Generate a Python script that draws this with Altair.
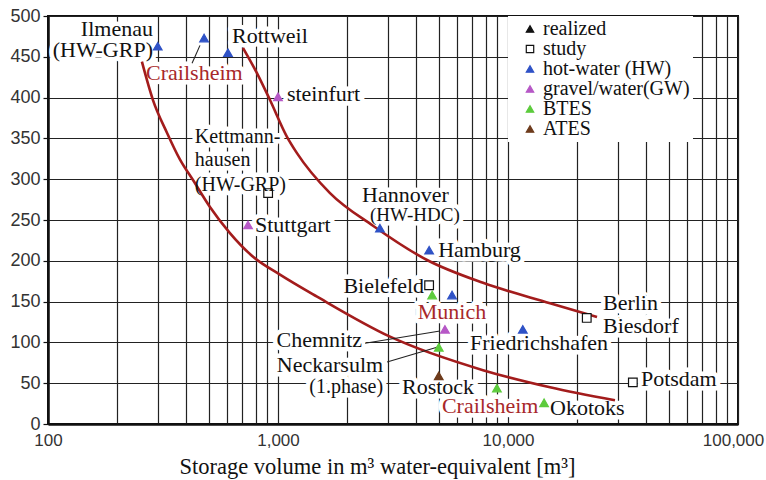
import altair as alt
import pandas as pd

# ---- storage sites -------------------------------------------------------
site_names = ["Ilmenau", "Crailsheim HW", "Rottweil", "Steinfurt", "Kettmannhausen",
              "Stuttgart", "Hannover", "Hamburg", "Bielefeld", "Munich BTES",
              "Munich HW", "Chemnitz", "Neckarsulm", "Rostock", "Crailsheim BTES",
              "Okotoks", "Friedrichshafen", "Berlin Biesdorf", "Potsdam"]
site_volume = [300, 477, 606, 1000, 906, 741, 2775, 4540, 4540, 4680,
               5710, 5320, 5000, 5000, 8950, 14350, 11600, 22000, 34900]
site_value = [463, 473, 455, 401, 283, 244, 240, 213, 170, 158,
              158, 116, 94, 59, 44, 26, 116, 130, 51]
site_kind = ["hot-water (HW)", "hot-water (HW)", "hot-water (HW)", "gravel/water(GW)", "study",
             "gravel/water(GW)", "hot-water (HW)", "hot-water (HW)", "study", "BTES",
             "hot-water (HW)", "gravel/water(GW)", "BTES", "ATES", "BTES",
             "BTES", "hot-water (HW)", "study", "study"]

kinds = ["realized", "study", "hot-water (HW)", "gravel/water(GW)", "BTES", "ATES"]
kind_fill = ["#111111", "#ffffff", "#2f52c6", "#b658c6", "#5ccb3c", "#6e3b1c"]
kind_stroke = ["#111111", "#111111", "#2f52c6", "#b658c6", "#5ccb3c", "#6e3b1c"]
kind_shape = ["triangle-up", "square", "triangle-up", "triangle-up", "triangle-up", "triangle-up"]

# ---- trend curves ---------------------------------------------------------
upper_volume = [704, 810, 923, 1094, 1209, 1683, 2588, 4445, 7786, 15230, 24380]
upper_value = [461, 430, 397, 352, 332, 283, 243, 201, 173, 148, 131]
lower_volume = [256, 286, 329, 375, 427, 506, 618, 779, 1020, 1478, 3069, 7786, 15230, 29180]
lower_value = [444, 397, 357, 324, 299, 266, 234, 205, 183, 156, 107, 66, 45, 29]

# ---- annotations ----------------------------------------------------------
label_text = ["Ilmenau", "(HW-GRP)", "Crailsheim", "Rottweil", "steinfurt",
              "Kettmann-", "hausen", "(HW-GRP)", "Stuttgart", "Hannover", "(HW-HDC)",
              "Hamburg", "Bielefeld", "Munich", "Chemnitz", "Neckarsulm", "(1.phase)",
              "Rostock", "Crailsheim", "Okotoks", "Friedrichshafen", "Berlin", "Biesdorf",
              "Potsdam"]
label_volume = [286, 286, 267, 631, 1093,
                435, 435, 435, 794, 2320, 2512,
                4970, 4315, 5710, 2320, 2865, 2865,
                3460, 5160, 15240, 6840, 25880, 25880,
                37840]
label_value = [484, 458, 430, 475, 404,
               352, 324, 293, 244, 281, 256,
               213, 169, 137, 103, 72, 45,
               45, 22, 20, 99, 148, 120,
               55]
label_align = ["right", "right", "left", "left", "left",
               "left", "left", "left", "left", "left", "left",
               "left", "right", "center", "right", "right", "right",
               "left", "left", "left", "left", "left", "left",
               "left"]
label_color = ["#111111", "#111111", "#a8282a", "#111111", "#111111",
               "#111111", "#111111", "#111111", "#111111", "#111111", "#111111",
               "#111111", "#111111", "#a8282a", "#111111", "#111111", "#111111",
               "#111111", "#a8282a", "#111111", "#111111", "#111111", "#111111",
               "#111111"]
label_size = [22, 22, 22, 22, 22,
              20, 20, 20, 22, 22, 19,
              22, 22, 22, 22, 22, 20,
              22, 22, 22, 22, 22, 22,
              22]

# leader lines from labels to their markers
leader_x1 = [423, 2390, 2980]
leader_y1 = [442, 99, 76]
leader_x2 = [458, 5060, 4910]
leader_y2 = [464, 114, 94]

# ---- axis ticks -----------------------------------------------------------
x_grid = [m * 10 ** e for e in (2, 3, 4) for m in range(1, 10)] + [100000]
x_labelled = [100, 1000, 10000, 100000]
y_ticks = list(range(0, 501, 50))

sites = pd.DataFrame({"name": site_names, "volume": site_volume,
                      "value": site_value, "kind": site_kind})
curves = pd.DataFrame({
    "volume": upper_volume + lower_volume,
    "value": upper_value + lower_value,
    "curve": ["upper"] * len(upper_volume) + ["lower"] * len(lower_volume),
})
labels = pd.DataFrame({"text": label_text, "volume": label_volume, "value": label_value,
                       "align": label_align, "color": label_color, "size": label_size})
leaders = pd.DataFrame({"x1": leader_x1, "y1": leader_y1, "x2": leader_x2, "y2": leader_y2})

x_scale = alt.Scale(type="log", domain=[100, 100000], nice=False)
y_scale = alt.Scale(domain=[0, 500], nice=False)

label_expr = ("indexof([" + ",".join(str(v) for v in x_labelled) +
              "], datum.value) >= 0 ? format(datum.value, ',') : ''")

x_axis = alt.Axis(values=x_grid, labelExpr=label_expr, grid=True, ticks=False,
                  title="Storage volume in m³ water-equivalent [m³]",
                  titleFont="Liberation Serif", titleFontSize=22.5, titleFontWeight="normal",
                  titleColor="#111111", titlePadding=7, titleX=329, titleAlign="center",
                  labelFont="Liberation Sans", labelFontSize=17, labelColor="#333333",
                  labelPadding=8, labelFlush=False, labelOverlap=False,
                  labelOffset={"condition": {"test": "datum.value == 100000", "value": -5},
                               "value": 0})
y_axis = alt.Axis(values=y_ticks, grid=True, ticks=True, tickSize=5, tickColor="#111111",
                  tickWidth=1.2, title=None, labelFont="Liberation Sans", labelFontSize=18,
                  labelColor="#333333", labelPadding=3)

base_x = alt.X("volume:Q", scale=x_scale, axis=x_axis)
base_y = alt.Y("value:Q", scale=y_scale, axis=y_axis)

curve_layer = alt.Chart(curves).mark_line(
    color="#a31c1c", strokeWidth=2.6, interpolate="monotone"
).encode(x=base_x, y=base_y, detail="curve:N")

leader_layer = alt.Chart(leaders).mark_rule(color="#222222", strokeWidth=1.1).encode(
    x=alt.X("x1:Q", scale=x_scale), y=alt.Y("y1:Q", scale=y_scale),
    x2="x2:Q", y2="y2:Q")

legend = alt.Legend(title=None, orient="none", legendX=460, legendY=0,
                    fillColor="white", padding=3, symbolOffset=9,
                    labelFont="Liberation Serif", labelFontSize=20, labelColor="#111111",
                    labelOffset=3, symbolSize=55, symbolStrokeWidth=1.2, rowPadding=0,
                    labelLimit=300)

point_layer = alt.Chart(sites).mark_point(filled=True, size=75, strokeWidth=1.2, opacity=1).encode(
    x=base_x, y=base_y,
    fill=alt.Fill("kind:N", scale=alt.Scale(domain=kinds, range=kind_fill), legend=legend),
    stroke=alt.Stroke("kind:N", scale=alt.Scale(domain=kinds, range=kind_stroke), legend=legend),
    shape=alt.Shape("kind:N", scale=alt.Scale(domain=kinds, range=kind_shape), legend=legend),
)


def label_layers(halo):
    """Text layers, one per alignment; with halo=True a white backing that masks the grid."""
    out = []
    for a in ["left", "right", "center"]:
        if halo:
            mark = alt.Chart(labels).mark_text(
                align=a, baseline="middle", font="Liberation Serif",
                color="white", stroke="white", strokeWidth=9, strokeJoin="round")
            enc = {}
        else:
            mark = alt.Chart(labels).mark_text(
                align=a, baseline="middle", font="Liberation Serif")
            enc = {"color": alt.Color("color:N", scale=None)}
        out.append(
            mark.transform_filter(alt.datum.align == a).encode(
                x=alt.X("volume:Q", scale=x_scale),
                y=alt.Y("value:Q", scale=y_scale),
                text="text:N",
                size=alt.Size("size:Q", scale=None),
                **enc,
            )
        )
    return out


chart = alt.layer(*label_layers(True), curve_layer, leader_layer, point_layer,
                  *label_layers(False)).properties(
    width=690, height=408, autosize="none", background="white",
    padding={"left": 48, "top": 16, "right": 28, "bottom": 56},
).configure_view(
    stroke="#111111", strokeWidth=2
).configure_axis(
    gridColor="#222222", gridWidth=1.2, gridOpacity=1,
    domainColor="#111111", domainWidth=2.5
)

chart.save("out.html", embed_options={"renderer": "svg", "actions": False})
